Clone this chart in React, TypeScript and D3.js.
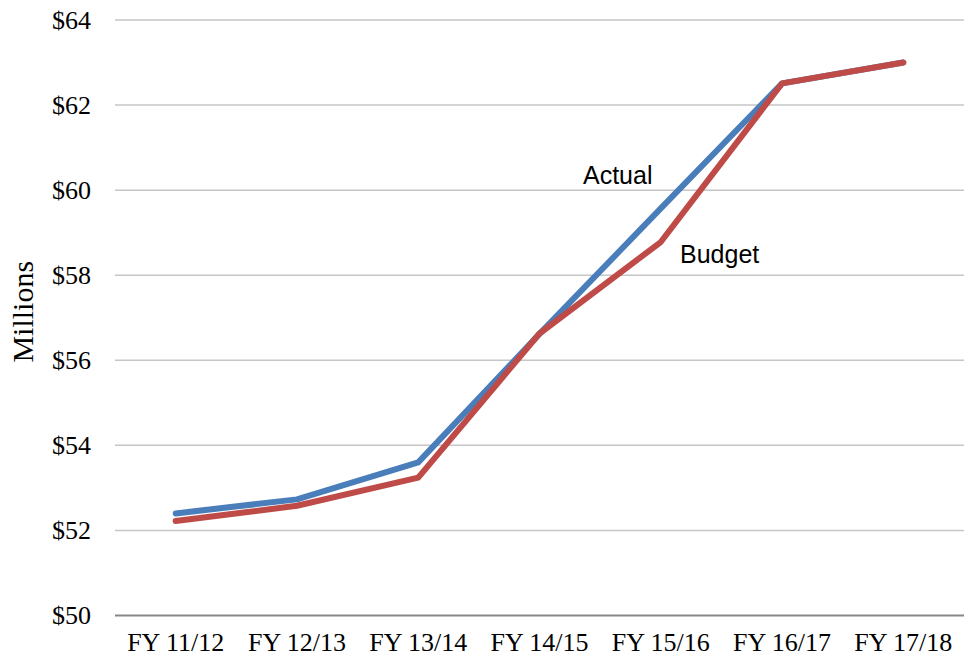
import React from "react";
import * as d3 from "d3";

const categories = ["FY 11/12", "FY 12/13", "FY 13/14", "FY 14/15", "FY 15/16", "FY 16/17", "FY 17/18"];
const actual = [52.4, 52.73, 53.6, 56.62, 59.57, 62.51, 63.0];
const budget = [52.22, 52.58, 53.24, 56.63, 58.78, 62.51, 63.0];
const yTicks = [50, 52, 54, 56, 58, 60, 62, 64];

const W = 964;
const H = 658;
const left = 115;
const right = 964;
const top = 20;
const bottom = 615.5;

export default function App() {
  const x = d3.scaleBand<string>().domain(categories).range([left, right]).padding(0);
  const y = d3.scaleLinear().domain([50, 64]).range([bottom, top]);
  const cx = (c: string) => (x(c) as number) + x.bandwidth() / 2;

  const line = d3
    .line<number>()
    .x((_, i) => cx(categories[i]))
    .y((d) => y(d));

  const serif = "'Liberation Serif', 'Times New Roman', serif";
  const sans = "'Liberation Sans', Arial, sans-serif";

  return (
    <svg
      width={W}
      height={H}
      style={{ position: "absolute", left: 0, top: 0, background: "#fff" }}
    >
      {yTicks.map((t) => (
        <g key={t}>
          <line
            x1={left}
            x2={right}
            y1={y(t)}
            y2={y(t)}
            stroke={t === 50 ? "#878787" : "#c6c6c6"}
            strokeWidth={t === 50 ? 2 : 1.5}
          />
          <text
            x={91}
            y={y(t)}
            textAnchor="end"
            dominantBaseline="central"
            fontFamily={serif}
            fontSize={26}
            fill="#000"
          >
            {`$${t}`}
          </text>
        </g>
      ))}
      {categories.map((c) => (
        <text
          key={c}
          x={cx(c)}
          y={651}
          textAnchor="middle"
          fontFamily={serif}
          fontSize={26}
          fill="#000"
        >
          {c}
        </text>
      ))}
      <text
        transform={`translate(33, ${(top + bottom) / 2 - 6}) rotate(-90)`}
        textAnchor="middle"
        fontFamily={serif}
        fontSize={30}
        fill="#000"
      >
        Millions
      </text>
      <path
        d={line(actual) || ""}
        fill="none"
        stroke="#4A7EBB"
        strokeWidth={6}
        strokeLinecap="round"
        strokeLinejoin="round"
      />
      <path
        d={line(budget) || ""}
        fill="none"
        stroke="#BE4B48"
        strokeWidth={6}
        strokeLinecap="round"
        strokeLinejoin="round"
      />
      <text x={583} y={184} fontFamily={sans} fontSize={25} fill="#000">
        Actual
      </text>
      <text x={680} y={263} fontFamily={sans} fontSize={25} fill="#000">
        Budget
      </text>
    </svg>
  );
}
